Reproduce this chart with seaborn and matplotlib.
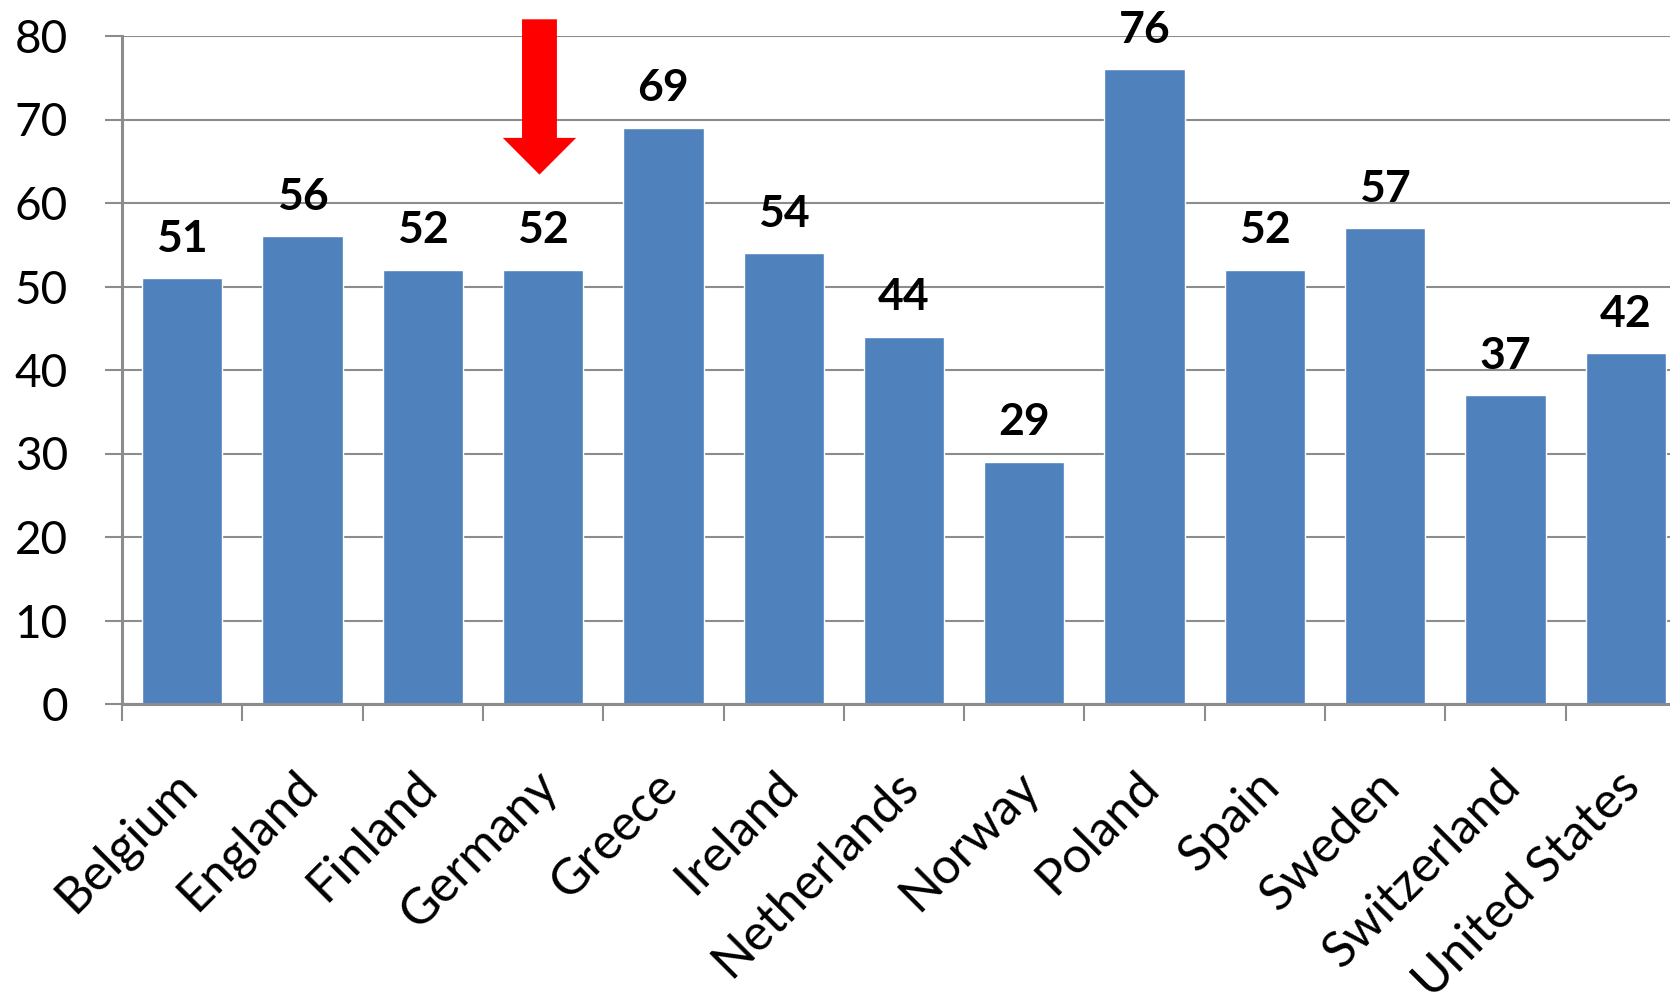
import matplotlib
matplotlib.use("Agg")
import matplotlib.pyplot as plt
import matplotlib.transforms as mtransforms
import seaborn as sns
import pandas as pd

countries = ["Belgium", "England", "Finland", "Germany", "Greece", "Ireland",
             "Netherlands", "Norway", "Poland", "Spain", "Sweden",
             "Switzerland", "United States"]
values = [51, 56, 52, 52, 69, 54, 44, 29, 76, 52, 57, 37, 42]
y_ticks = [0, 10, 20, 30, 40, 50, 60, 70, 80]
highlight = "Germany"

sns.set_style("white")
plt.rcParams["font.family"] = ["Lato", "DejaVu Sans"]

df = pd.DataFrame({"country": countries, "value": values})

fig = plt.figure(figsize=(16.7, 9.99), dpi=100)
ax = fig.add_axes([122 / 1670, 295 / 999, (1686 - 122) / 1670, 668 / 999])

sns.barplot(data=df, x="country", y="value", color="#4F81BD", saturation=1,
            width=0.667, ax=ax, zorder=3)

ax.set_xlim(-0.5, len(countries) - 0.5)
ax.set_ylim(y_ticks[0], y_ticks[-1])
ax.set_yticks(y_ticks)
ax.set_xticks([i - 0.5 for i in range(len(countries) + 1)], minor=False)
ax.set_xticklabels([])
ax.set_xticks(range(len(countries)), minor=True)
ax.set_xticklabels(countries, minor=True)
ax.set_xlabel("")
ax.set_ylabel("")

grid_col = "#8c8c8c"
ax.yaxis.grid(True, color=grid_col, linewidth=1.5, zorder=0)
ax.set_axisbelow(True)
for side in ["top", "right"]:
    ax.spines[side].set_visible(False)
for side in ["left", "bottom"]:
    ax.spines[side].set_color(grid_col)
    ax.spines[side].set_linewidth(2.2)
    ax.spines[side].set_zorder(4)

ax.tick_params(axis="y", which="major", length=12, width=1.5, color=grid_col,
               pad=27, labelsize=33, labelcolor="black", direction="out",
               left=True)
ax.tick_params(axis="x", which="major", length=12, width=1.5, color=grid_col,
               direction="out", bottom=True)
ax.tick_params(axis="x", which="minor", length=0, pad=54, labelsize=36,
               labelcolor="black", bottom=True)

offset = mtransforms.ScaledTranslation(5 / 72, 0, fig.dpi_scale_trans)
for lab in ax.get_xticklabels(minor=True):
    lab.set_rotation(45)
    lab.set_ha("right")
    lab.set_va("center")
    lab.set_rotation_mode("anchor")
    lab.set_transform(lab.get_transform() + offset)

for cont in ax.containers:
    ax.bar_label(cont, labels=[f"{v}" for v in values], padding=14,
                 fontsize=32, fontweight="bold", color="black")

# Red marker arrow above the highlighted country
hx = countries.index(highlight) - 0.03
ax.arrow(hx, 82.0, 0, -18.6, width=0.29, head_width=0.61, head_length=4.4,
         length_includes_head=True, color="#ff0000", linewidth=0,
         clip_on=False, zorder=5)

fig.savefig("out.png", dpi=100)
